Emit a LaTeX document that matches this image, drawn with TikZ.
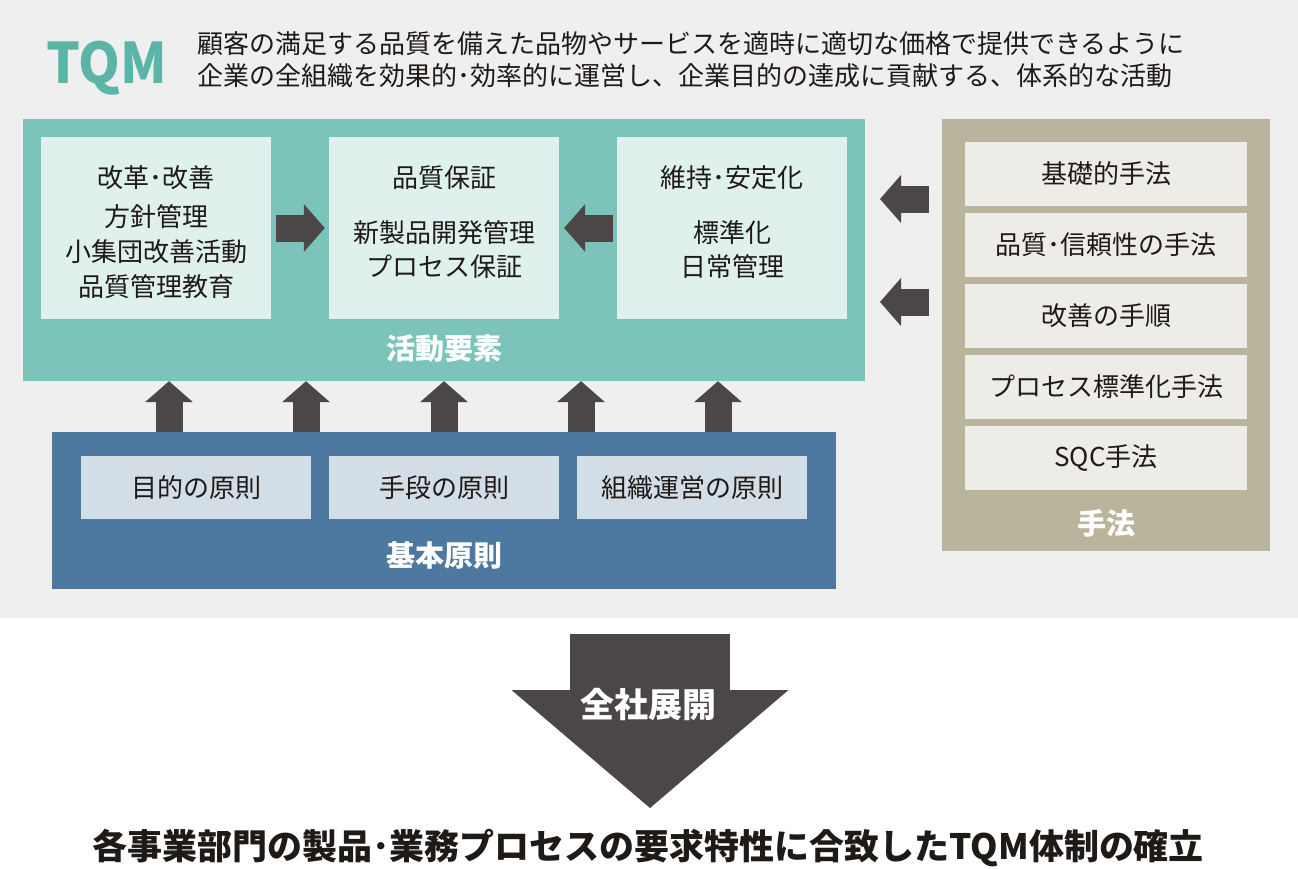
\documentclass[tikz,border=0pt]{standalone}
\usepackage{fontspec}
\setmainfont{Noto Sans CJK JP}
\usetikzlibrary{arrows.meta,positioning}

\definecolor{bggray}{HTML}{EFEFEF}
\definecolor{tqmteal}{HTML}{5BB5A7}
\definecolor{tealpanel}{HTML}{7CC4B9}
\definecolor{tealcard}{HTML}{DFF0ED}
\definecolor{bluepanel}{HTML}{4D79A0}
\definecolor{bluecard}{HTML}{D3DDE6}
\definecolor{tanpanel}{HTML}{BAB49C}
\definecolor{tancard}{HTML}{EDECE7}
\definecolor{arrowgray}{HTML}{4B4746}
\definecolor{ink}{HTML}{1E1A18}

\tikzset{
  panel/.style={fill=#1, inner sep=0pt},
  card/.style={fill=#1, inner sep=0pt, minimum width=230pt},
  txt/.style={font=\fontsize{26}{34}\selectfont, text=ink, align=center, inner sep=0pt},
  whitelabel/.style={font=\fontsize{29}{29}\selectfont\bfseries, text=white, inner sep=0pt},
  fatarrow/.style={arrowgray, line width=27pt, -{Triangle[width=48pt, length=21pt, line width=0pt]}},
}

\begin{document}
\begin{tikzpicture}[x=1pt, y=-1pt]
  \useasboundingbox (0,0) rectangle (1298,868);
  \fill[bggray] (0,0) rectangle (1298,618);

  % title
  \node[anchor=base, inner sep=0pt, text=tqmteal, font=\fontsize{56}{56}\selectfont\bfseries, xscale=0.95] (tqm) at (107,83) {TQM};
  \node[txt, anchor=west, text height=21pt, text depth=5pt] (teigi1) at (197,45)
    {顧客の満足する品質を備えた品物やサービスを適時に適切な価格で提供できるように};
  \node[txt, anchor=west, text height=21pt, text depth=5pt] (teigi2) at (197,77)
    {企業の全組織を効果的･効率的に運営し、企業目的の達成に貢献する、体系的な活動};

  % 活動要素
  \node[panel=tealpanel, minimum width=842pt, minimum height=262pt] (katsudo) at (444,250) {};
  \node[card=tealcard, minimum height=182pt] (kaikaku) at (156,228) {};
  \node[card=tealcard, minimum height=182pt] (hinshitsu) at (444,228) {};
  \node[card=tealcard, minimum height=182pt] (iji) at (732,228) {};
  \node[txt] (kaikakuTitle) at (156,178) {改革･改善};
  \node[txt] (hinshitsuTitle) at (444,178) {品質保証};
  \node[txt] (ijiTitle) at (732,178) {維持･安定化};
  \node[txt, font=\fontsize{26}{35}\selectfont] (kaikakuBody) at (156,252) {方針管理\\小集団改善活動\\品質管理教育};
  \node[txt] (hinshitsuBody) at (444,250) {新製品開発管理\\プロセス保証};
  \node[txt] (ijiBody) at (732,250) {標準化\\日常管理};
  \node[whitelabel] (katsudoLabel) at (444,349) {活動要素};

  % 基本原則
  \node[panel=bluepanel, minimum width=784pt, minimum height=157pt] (kihon) at (444,510.5) {};
  \node[card=bluecard, txt, minimum height=63pt] (mokuteki) at (196,487.5) {目的の原則};
  \node[card=bluecard, txt, minimum height=63pt] (shudan) at (444,487.5) {手段の原則};
  \node[card=bluecard, txt, minimum height=63pt] (soshiki) at (692,487.5) {組織運営の原則};
  \node[whitelabel] (kihonLabel) at (444,556) {基本原則};

  % 手法
  \node[panel=tanpanel, minimum width=328pt, minimum height=432pt] (shuho) at (1106,335) {};
  \foreach \y/\t [count=\i] in {174/基礎的手法, 245/品質･信頼性の手法, 316/改善の手順, 387/プロセス標準化手法, 457.5/SQC手法}
    \node[card=tancard, txt, minimum width=282pt, minimum height=64pt] (m\i) at (1106,\y) {\t};
  \node[whitelabel] (shuhoLabel) at (1106,523) {手法};

  % arrows
  \draw[fatarrow] ([xshift=5pt]kaikaku.east) -- ([xshift=-4pt]hinshitsu.west);
  \draw[fatarrow] ([xshift=-4pt]iji.west) -- ([xshift=5pt]hinshitsu.east);
  \foreach \x in {169,306,444,581,718}
    \draw[fatarrow] (kihon.north -| \x,0) -- (katsudo.south -| \x,0);

  \coordinate (s1) at (929,199);
  \coordinate (e1) at (880,199);
  \coordinate (s2) at (929,302);
  \coordinate (e2) at (880,302);
  \draw[fatarrow] (s1) -- (e1);
  \draw[fatarrow] (s2) -- (e2);

  % 全社展開
  \coordinate (tenkaiStart) at (650,634);
  \coordinate (tenkaiEnd) at (650,808);
  \draw[arrowgray, line width=160pt, -{Triangle[width=277pt, length=118pt, line width=0pt]}] (tenkaiStart) -- (tenkaiEnd);
  \node[whitelabel, font=\fontsize{34}{34}\selectfont\bfseries] (tenkai) at (648,705) {全社展開};

  \node[inner sep=0pt, text=ink, font=\fontsize{35}{35}\selectfont\bfseries] (kakuritsu) at (648,848)
    {各事業部門の製品･業務プロセスの要求特性に合致したTQM体制の確立};
\end{tikzpicture}
\end{document}
